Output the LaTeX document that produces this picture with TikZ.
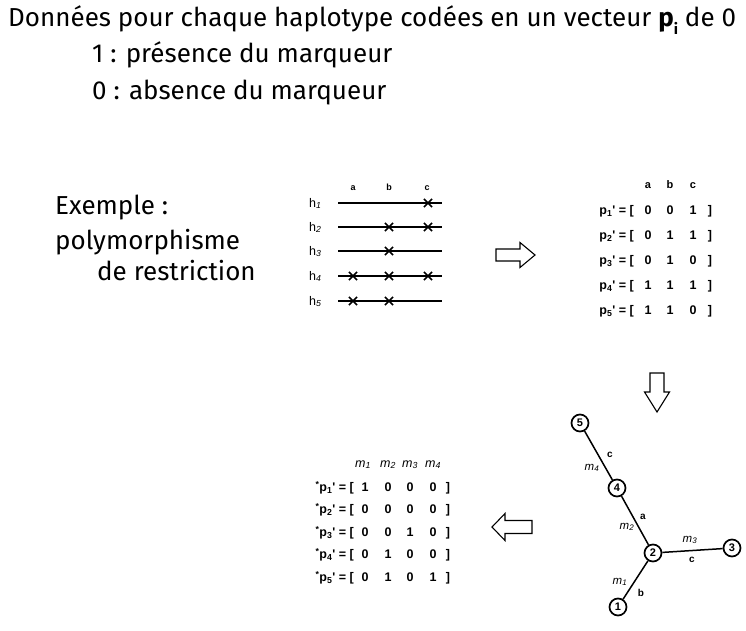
\documentclass[tikz,border=0pt]{standalone}
\usepackage{fontspec}
\setmainfont{Fira Sans}
\newfontfamily\scanfont{Liberation Sans}
\usetikzlibrary{shapes.misc}

% hollow block arrow: start point, angle, length, head start, shaft half width, head half width
\newcommand\hollowarrow[7]{%
  \draw[blockarrow, shift={(#1,#2)}, rotate=#3]
    (0,-#6) -- (#5,-#6) -- (#5,-#7) -- (#4,0) -- (#5,#7) -- (#5,#6) -- (0,#6) -- cycle;}

\tikzset{
  big/.style={font=\fontsize{26}{30}\selectfont, inner sep=0pt},
  blockarrow/.style={line width=1.1pt, line join=miter, fill=white},
  hapline/.style={line width=1.4pt},
  site/.style={cross out, draw, line width=1.7pt, minimum size=6.5pt, inner sep=0pt},
  hlabel/.style={font=\scanfont\fontsize{12.5}{12.5}\selectfont, inner sep=0pt, anchor=base west},
  col/.style={font=\scanfont\bfseries\fontsize{9}{9}\selectfont, inner sep=0pt, anchor=base},
  cell/.style={font=\scanfont\bfseries\fontsize{12.5}{12.5}\selectfont, inner sep=0pt, anchor=base},
  rowlab/.style={font=\scanfont\bfseries\fontsize{12.5}{12.5}\selectfont, inner sep=0pt, anchor=base east},
  mlab/.style={font=\scanfont\itshape\fontsize{12.5}{12.5}\selectfont, inner sep=0pt, anchor=base},
  hap/.style={circle, draw, line width=1.7pt, minimum size=17pt, inner sep=0pt, fill=white,
              font=\scanfont\bfseries\fontsize{11}{11}\selectfont},
  edge/.style={line width=1.5pt},
  elab/.style={font=\scanfont\bfseries\fontsize{10}{10}\selectfont, inner sep=0pt},
  emlab/.style={font=\scanfont\itshape\fontsize{11.5}{11.5}\selectfont, inner sep=0pt},
}

\begin{document}
\begin{tikzpicture}[x=1pt, y=-1pt]
  \useasboundingbox (0,0) rectangle (746,631);
  \clip (0,0) rectangle (746,631);

  % heading
  \node[big, anchor=base west] (head) at (8,27)
    {Données pour chaque haplotype codées en un vecteur \textbf{p}\raisebox{-0.28em}{\fontsize{15}{15}\selectfont\bfseries i} de 0};
  \node[big, anchor=base west] (one) at (92,63) {1 : présence du marqueur};
  \node[big, anchor=base west] (zero) at (92,100) {0 : absence du marqueur};

  \node[big, anchor=base west] (ex1) at (55,214) {Exemple :};
  \node[big, anchor=base west] (ex2) at (55,249) {polymorphisme};
  \node[big, anchor=base west] (ex3) at (97,280) {de restriction};

  % restriction map of the five haplotypes
  \node[col] (ca) at (353,190) {a};
  \node[col] (cb) at (389,190) {b};
  \node[col] (cc) at (427,190) {c};
  \foreach \i/\y in {1/203, 2/227, 3/251, 4/276, 5/301} {
    \node[hlabel] (h\i) at (309,\y+4) {h\textsubscript{\itshape\i}};
    \coordinate (hl\i) at (338,\y);
    \coordinate (hr\i) at (442,\y);
    \draw[hapline] (hl\i) -- (hr\i);
  }
  \node[site] (s1c) at (428,203) {};
  \node[site] (s2b) at (389,227) {};
  \node[site] (s2c) at (428,227) {};
  \node[site] (s3b) at (389,251) {};
  \node[site] (s4a) at (353,276) {};
  \node[site] (s4b) at (389,276) {};
  \node[site] (s4c) at (428,276) {};
  \node[site] (s5a) at (353,301) {};
  \node[site] (s5b) at (389,301) {};

  % arrows between the panels
  \hollowarrow{496}{255}{0}{39}{24}{6}{12.5}
  \hollowarrow{657}{373}{-90}{39}{19}{7}{12.5}
  \hollowarrow{532}{527}{180}{40}{27}{6.5}{13.5}

  % vectors p_i'
  \node[col, font=\scanfont\bfseries\fontsize{11}{11}\selectfont] (pa) at (648,189) {a};
  \node[col, font=\scanfont\bfseries\fontsize{11}{11}\selectfont] (pb) at (670,189) {b};
  \node[col, font=\scanfont\bfseries\fontsize{11}{11}\selectfont] (pc) at (693,189) {c};
  \foreach \i/\y/\va/\vb/\vc in {1/210/0/0/1, 2/235/0/1/1, 3/260/0/1/0, 4/285/1/1/1, 5/310/1/1/0} {
    \node[rowlab] (p\i) at (634,\y+4.5) {p\textsubscript{\i}' = [};
    \node[cell] (p\i a) at (648,\y+4.5) {\va};
    \node[cell] (p\i b) at (670,\y+4.5) {\vb};
    \node[cell] (p\i c) at (693,\y+4.5) {\vc};
    \node[cell] (p\i r) at (710,\y+4.5) {]};
  }

  % haplotype tree
  \node[hap] (t5) at (580,423) {5};
  \node[hap] (t4) at (617,488) {4};
  \node[hap] (t2) at (653,553) {2};
  \node[hap] (t3) at (732,548) {3};
  \node[hap] (t1) at (618,607) {1};
  \draw[edge] (t5) -- (t4);
  \draw[edge] (t4) -- (t2);
  \draw[edge] (t2) -- (t3);
  \draw[edge] (t2) -- (t1);
  \node[elab] (lc1) at (610,455) {c};
  \node[emlab] (lm4) at (592,468) {m\textsubscript{4}};
  \node[elab] (la) at (643,517) {a};
  \node[emlab] (lm2) at (627,527) {m\textsubscript{2}};
  \node[emlab] (lm3) at (690,540) {m\textsubscript{3}};
  \node[elab] (lc2) at (692,560) {c};
  \node[emlab] (lm1) at (620,582) {m\textsubscript{1}};
  \node[elab] (lb) at (641,593) {b};

  % recoded vectors *p_i'
  \foreach \j/\x in {1/363, 2/388, 3/410, 4/433} {
    \node[mlab] (m\j) at (\x,467) {m\textsubscript{\j}};
  }
  \foreach \i/\y/\va/\vb/\vc/\vd in {1/487/1/0/0/0, 2/509/0/0/0/0, 3/532/0/0/1/0, 4/554/0/1/0/0, 5/577/0/1/0/1} {
    \node[rowlab] (q\i) at (354,\y+4.5) {\textsuperscript{*}p\textsubscript{\i}' = [};
    \node[cell] (q\i a) at (365,\y+4.5) {\va};
    \node[cell] (q\i b) at (388,\y+4.5) {\vb};
    \node[cell] (q\i c) at (410,\y+4.5) {\vc};
    \node[cell] (q\i d) at (433,\y+4.5) {\vd};
    \node[cell] (q\i r) at (448,\y+4.5) {]};
  }
\end{tikzpicture}
\end{document}
